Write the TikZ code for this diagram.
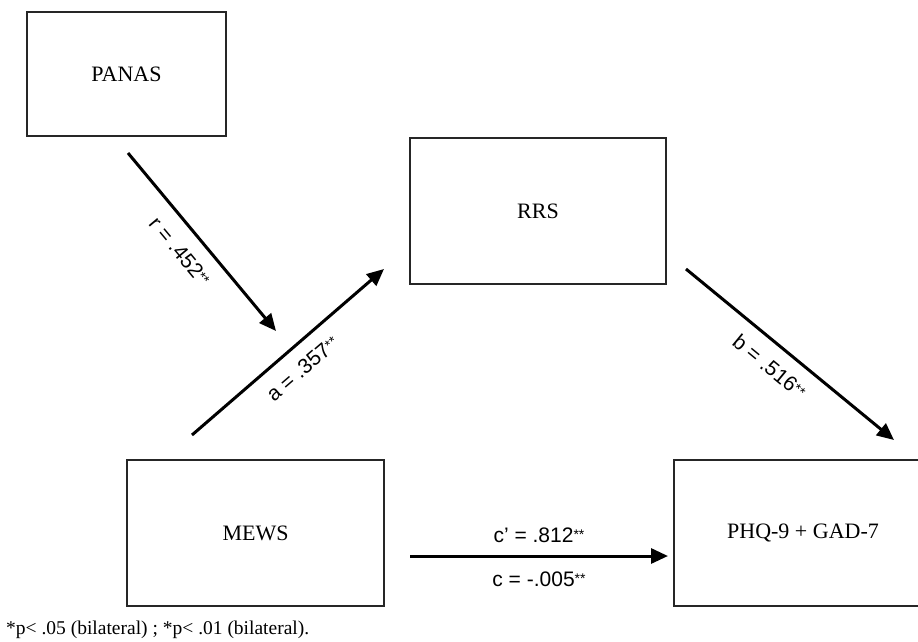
\documentclass[tikz,border=0pt]{standalone}
\usepackage{fontspec}
\setmainfont{Liberation Serif}
\setsansfont{Liberation Sans}
\usetikzlibrary{arrows.meta}
\newcommand{\sig}{\raisebox{3pt}{\fontsize{14}{14}\selectfont **}}
\tikzset{
  box/.style={draw=black!85, line width=2pt, fill=white, inner sep=0pt,
    font=\fontsize{22}{26}\selectfont},
  path/.style={line width=3pt, -{Triangle[length=17pt,width=15pt]}},
  lab/.style={font=\sffamily\fontsize{21}{25}\selectfont, sloped, inner sep=0pt},
}
\begin{document}
\begin{tikzpicture}[x=1pt,y=-1pt]
\useasboundingbox (0,0) rectangle (918,641);
\clip (0,0) rectangle (918,641);
\node[box, minimum width=199pt, minimum height=124pt] (panas) at (126.5,74) {PANAS};
\node[box, minimum width=256pt, minimum height=146pt] (rrs) at (538,211) {RRS};
\node[box, minimum width=257pt, minimum height=146pt] (mews) at (255.5,533) {MEWS};
\node[box, minimum width=258pt, minimum height=146pt] (phq) at (803,533) {PHQ-9 + GAD-7};

\coordinate (r1) at (128,153);
\coordinate (r2) at (276,331);
\coordinate (a1) at (192,435);
\coordinate (a2) at (384,269);
\coordinate (b1) at (686,269);
\coordinate (b2) at (894,440);
\coordinate (c1) at (410,556);
\coordinate (c2) at (668,556);

\draw[path] (r1) -- node[lab, below=14pt, pos=0.47] {r = .452\sig} (r2);
\draw[path] (a1) -- node[lab, below=13pt, pos=0.5] {a = .357\sig} (a2);
\draw[path] (b1) -- node[lab, below=13pt, pos=0.47] {b = .516\sig} (b2);
\draw[path] (c1) -- node[lab, above=12pt] {c’ = .812\sig} node[lab, below=14pt] {c = -.005\sig} (c2);

\node[anchor=base west, inner sep=0pt, font=\fontsize{19.5}{22}\selectfont] (note) at (6,634) {*p< .05 (bilateral) ; *p< .01 (bilateral).};
\end{tikzpicture}
\end{document}
